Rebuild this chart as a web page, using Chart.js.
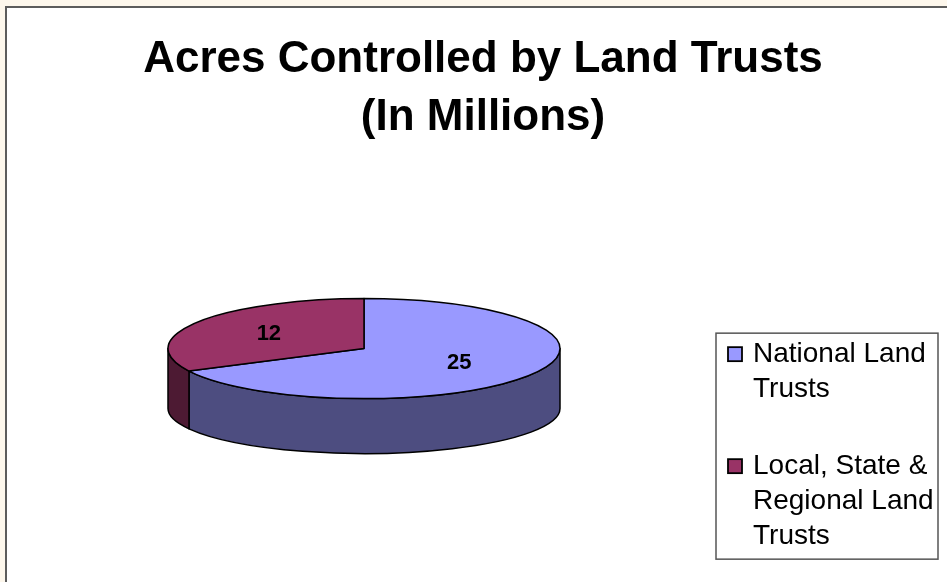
<!DOCTYPE html>
<html>
<head>
<meta charset="utf-8">
<script src="https://cdn.jsdelivr.net/npm/chart.js@4.4.1/dist/chart.umd.min.js"></script>
<style>
  html, body { margin: 0; padding: 0; background: #fdf7ec; overflow: hidden; }
  #moldura { position: absolute; left: 5px; top: 6px; width: 980px; height: 620px; background: #fff; border: 2px solid #5c5c5c; }
  #grafico { position: absolute; left: 0; top: 0; }
</style>
</head>
<body>
<div id="moldura"></div>
<canvas id="grafico" width="947" height="582"></canvas>
<script>
// ── DADOS
const TITULO = ['Acres Controlled by Land Trusts', '(In Millions)'];
const CATEGORIAS = ['National Land Trusts', 'Local, State & Regional Land Trusts'];
const VALORES = [25, 12];
const COR_TOPO = ['#9999ff', '#993366'];
const COR_LADO = ['#4d4d80', '#4d1a33'];

// ── APARÊNCIA
const FONTE = "Arial, 'Liberation Sans', sans-serif";
const INCLINACAO = 0.255;   // ry / rx da elipse de cima
const ESPESSURA = 60;       // altura da lateral nas pontas
const FUNDO = 0.9;          // elipse de baixo um pouco mais achatada (perspectiva)
const LEG = { larguraCaixa: 238, dx: 7, dy: 180, w: 222, h: 226, fonte: 28, linha: 35, espaco: 42, quebra: 195 };

// ── PIZZA 3D (usa a geometria dos arcos calculada pelo Chart.js)
const pizza3d = {
  id: 'pizza3d',
  beforeDatasetDraw(chart, args) {
    const ctx = chart.ctx;
    const arcos = args.meta.data;
    if (!arcos.length) return false;
    const cx = arcos[0].x, cy = arcos[0].y;
    const rx = arcos[0].outerRadius, ry = rx * INCLINACAO;
    ctx.save();
    ctx.lineWidth = 1.5;
    ctx.strokeStyle = '#000';
    ctx.lineJoin = 'round';

    // laterais: só a metade da frente (ângulos 0..π)
    arcos.forEach((arc, i) => {
      for (let k = -1; k <= 2; k++) {
        const ini = Math.max(arc.startAngle, 2 * Math.PI * k);
        const fim = Math.min(arc.endAngle, 2 * Math.PI * k + Math.PI);
        if (fim <= ini) continue;
        ctx.beginPath();
        ctx.ellipse(cx, cy, rx, ry, 0, ini, fim);
        ctx.ellipse(cx, cy + ESPESSURA, rx, ry * FUNDO, 0, fim, ini, true);
        ctx.closePath();
        ctx.fillStyle = COR_LADO[i];
        ctx.fill();
        ctx.stroke();
      }
    });

    // tampa
    arcos.forEach((arc, i) => {
      ctx.beginPath();
      ctx.moveTo(cx, cy);
      ctx.ellipse(cx, cy, rx, ry, 0, arc.startAngle, arc.endAngle);
      ctx.closePath();
      ctx.fillStyle = arc.options.backgroundColor;
      ctx.fill();
      ctx.stroke();
    });

    // rótulos de valor
    ctx.fillStyle = '#000';
    ctx.font = 'bold 22px ' + FONTE;
    ctx.textAlign = 'center';
    ctx.textBaseline = 'middle';
    const dados = chart.data.datasets[args.index].data;
    arcos.forEach((arc, i) => {
      const meio = (arc.startAngle + arc.endAngle) / 2;
      const x = cx + Math.cos(meio) * rx * 0.57;
      const y = cy + Math.sin(meio) * ry * 0.56;
      ctx.fillText(String(dados[i]), x, y);
    });
    ctx.restore();
    return false;
  }
};

// ── LEGENDA (caixa própria no layout, à direita)
function quebrarTexto(ctx, texto, max) {
  const palavras = texto.split(' ');
  const linhas = [];
  let atual = '';
  palavras.forEach(p => {
    const teste = atual ? atual + ' ' + p : p;
    if (atual && ctx.measureText(teste).width > max) { linhas.push(atual); atual = p; }
    else atual = teste;
  });
  if (atual) linhas.push(atual);
  return linhas;
}

function desenharLegenda(chart, caixa) {
  const ctx = chart.ctx;
  const fx = caixa.left + LEG.dx, fy = caixa.top + LEG.dy;
  ctx.save();
  ctx.fillStyle = '#fff';
  ctx.fillRect(fx, fy, LEG.w, LEG.h);
  ctx.strokeStyle = '#555';
  ctx.lineWidth = 1.5;
  ctx.strokeRect(fx, fy, LEG.w, LEG.h);

  ctx.font = LEG.fonte + 'px ' + FONTE;
  ctx.textAlign = 'left';
  ctx.textBaseline = 'middle';
  const cores = chart.data.datasets[0].backgroundColor;
  let y = fy + 21;
  chart.data.labels.forEach((rotulo, i) => {
    ctx.fillStyle = cores[i];
    ctx.fillRect(fx + 12, y - 7, 14, 14);
    ctx.strokeStyle = '#000';
    ctx.lineWidth = 1.8;
    ctx.strokeRect(fx + 12, y - 7, 14, 14);
    ctx.fillStyle = '#000';
    const linhas = quebrarTexto(ctx, rotulo, LEG.quebra);
    linhas.forEach((l, j) => ctx.fillText(l, fx + 37, y + j * LEG.linha));
    y += linhas.length * LEG.linha + LEG.espaco;
  });
  ctx.restore();
}

const caixaLegenda = {
  id: 'caixaLegenda',
  beforeInit(chart) {
    const caixa = {
      position: 'right', weight: 1000, fullSize: false,
      options: { stackWeight: 1 },
      top: 0, left: 0, right: 0, bottom: 0, width: 0, height: 0,
      isHorizontal() { return false; },
      update(maxW, maxH) { this.width = LEG.larguraCaixa; this.height = maxH; },
      draw() { desenharLegenda(chart, this); }
    };
    Chart.layouts.addBox(chart, caixa);
  }
};

// ── GRÁFICO
new Chart(document.getElementById('grafico'), {
  type: 'pie',
  data: {
    labels: CATEGORIAS,
    datasets: [{ data: VALORES, backgroundColor: COR_TOPO, borderColor: '#000', borderWidth: 1.5 }]
  },
  options: {
    responsive: false,
    animation: false,
    radius: 196,
    layout: { padding: { left: 19, right: 0, top: 0, bottom: 38 } },
    plugins: {
      legend: { display: false },
      tooltip: { enabled: false },
      title: {
        display: true,
        text: TITULO,
        color: '#000',
        font: { family: FONTE, size: 44, weight: 'bold', lineHeight: 1.32 },
        padding: { top: 31, bottom: 6 }
      }
    }
  },
  plugins: [pizza3d, caixaLegenda]
});
</script>
</body>
</html>
